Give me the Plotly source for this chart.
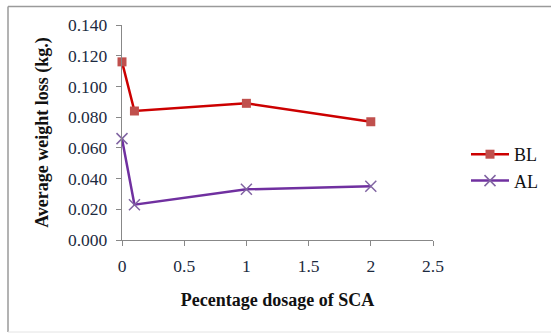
import plotly.graph_objects as go

dosage = [0, 0.1, 1, 2]
bl_loss = [0.116, 0.084, 0.089, 0.077]
al_loss = [0.066, 0.023, 0.033, 0.035]
x_ticks = [0, 0.5, 1, 1.5, 2, 2.5]
x_labels = ["0", "0.5", "1", "1.5", "2", "2.5"]
y_ticks = [0, 0.02, 0.04, 0.06, 0.08, 0.10, 0.12, 0.14]

W, H = 551, 333
L, R, T, B = 122, 118, 25, 93
pw, ph = W - L - R, H - T - B

def px(x):
    return (x - L) / pw

def py(y):
    return (H - B - y) / ph

font = "Liberation Serif, Times New Roman, serif"
tickcol = "#1c2a40"

fig = go.Figure()
fig.add_trace(go.Scatter(
    x=dosage, y=bl_loss, name="BL", mode="lines+markers", cliponaxis=False,
    line=dict(color="#cc0000", width=2.5),
    marker=dict(symbol="square", size=9, color="#c0504d", line=dict(width=0)),
))
fig.add_trace(go.Scatter(
    x=dosage, y=al_loss, name="AL", mode="lines+markers", cliponaxis=False,
    line=dict(color="#7030a0", width=2.5),
    marker=dict(symbol="x-thin", size=11, color="#8064a2",
                line=dict(width=1.5, color="#8064a2")),
))

fig.update_layout(
    width=W, height=H,
    margin=dict(l=L, r=R, t=T, b=B, autoexpand=False),
    paper_bgcolor="white", plot_bgcolor="white",
    showlegend=True,
    legend=dict(x=px(466), y=py(136), xanchor="left", yanchor="top",
                font=dict(family=font, size=18, color="#111111"),
                bgcolor="rgba(0,0,0,0)", tracegroupgap=0, itemwidth=38),
    xaxis=dict(range=[0, 2.5], tickvals=x_ticks, ticktext=x_labels,
               showgrid=False, zeroline=False, showline=True, linecolor="#888888", linewidth=1.3,
               ticks="outside", ticklen=5, tickcolor="#888888", tickwidth=1.3,
               tickfont=dict(family=font, size=17.5, color=tickcol),
               ticklabelstandoff=5, automargin=False,
               title=dict(text="<b>Pecentage dosage of SCA</b>", font=dict(family=font, size=18, color="#111111"),
                          standoff=18)),
    yaxis=dict(range=[0, 0.14], tickvals=y_ticks, ticktext=[f"{v:.3f}" for v in y_ticks],
               showgrid=False, zeroline=False, showline=True, linecolor="#888888", linewidth=1.3,
               ticks="outside", ticklen=5, tickcolor="#888888", tickwidth=1.3,
               tickfont=dict(family=font, size=17.5, color=tickcol),
               ticklabelstandoff=5, automargin=False,
               title=dict(text="<b>Average weight loss (kg.)</b>", font=dict(family=font, size=18, color="#111111"),
                          standoff=14)),
    shapes=[
        dict(type="line", xref="paper", yref="paper", x0=px(8), x1=px(560), y0=py(6.5), y1=py(6.5),
             line=dict(color="#9a9a9a", width=1.5)),
        dict(type="line", xref="paper", yref="paper", x0=px(8), x1=px(8), y0=py(6.5), y1=py(332),
             line=dict(color="#9a9a9a", width=1.5)),
        dict(type="line", xref="paper", yref="paper", x0=px(8), x1=px(560), y0=py(332), y1=py(332),
             line=dict(color="#e4e4e4", width=1)),
    ],
)

fig.write_html("out.html")
